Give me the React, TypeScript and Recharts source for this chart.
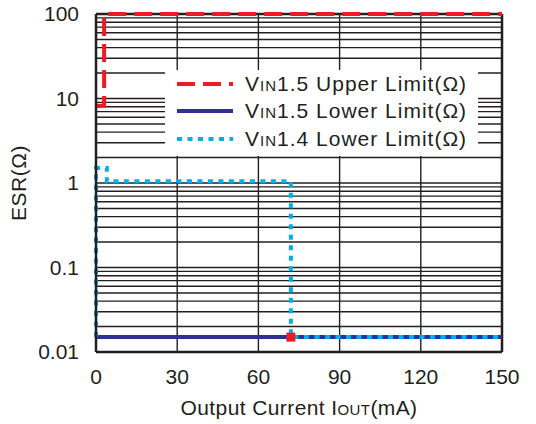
import React from "react";
import {
  LineChart,
  Line,
  XAxis,
  YAxis,
  CartesianGrid,
  Legend,
  Label,
  ReferenceLine,
} from "recharts";

// Output current (mA) vs ESR (Ω), step limits
const upperX = [0, 3, 3, 150];
const upperY = [8.2, 8.2, 100, 100];
const lower15X = [0, 150];
const lower15Y = [0.015, 0.015];
const lower14X = [0, 0, 4, 4, 72, 72, 150];
const lower14Y = [0.015, 1.5, 1.5, 1.05, 1.05, 0.015, 0.015];
const markerX = [72];
const markerY = [0.015];

const xTicks = [0, 30, 60, 90, 120, 150];
const yTicks = [0.01, 0.1, 1, 10, 100];
const yLabels = ["0.01", "0.1", "1", "10", "100"];
const minorSteps = [2, 3, 4, 5, 6, 7, 8, 9];

const yGrid: number[] = [];
yTicks.slice(0, 4).forEach((d) => minorSteps.forEach((k) => yGrid.push(+(k * d).toPrecision(3))));
yGrid.push(0.1, 1, 10);

const toData = (xs: number[], ys: number[]) => xs.map((x, i) => ({ x, y: ys[i] }));
const upperData = toData(upperX, upperY);
const lower15Data = toData(lower15X, lower15Y);
const lower14Data = toData(lower14X, lower14Y);
const markerData = toData(markerX, markerY);

const RED = "#ed1c24";
const BLUE = "#2e3192";
const CYAN = "#00aeef";
const INK = "#231f20";
const FONT = "'Liberation Sans', Arial, sans-serif";
const FS = 21;

const legendItems = [
  { color: RED, dash: "18 8", v: "1.5 Upper Limit(Ω)" },
  { color: BLUE, dash: undefined, v: "1.5 Lower Limit(Ω)" },
  { color: CYAN, dash: "5 5.5", v: "1.4 Lower Limit(Ω)" },
];

const LegendBox = () => (
  <div style={{ background: "#fff", width: 313, height: 86 }}>
    {legendItems.map((it) => (
      <div
        key={it.v}
        style={{
          display: "flex",
          alignItems: "center",
          height: 27.5,
          fontFamily: FONT,
          fontSize: FS,
          color: INK,
        }}
      >
        <svg width={68} height={10} style={{ marginLeft: 12, flex: "none" }}>
          <line x1={0} x2={56} y1={5} y2={5} stroke={it.color} strokeWidth={4} strokeDasharray={it.dash} />
        </svg>
        <span style={{ whiteSpace: "nowrap", letterSpacing: 1 }}>
          V<span style={{ fontSize: 15 }}>IN</span>
          {it.v}
        </span>
      </div>
    ))}
  </div>
);

const XTitle = (props: any) => {
  const { viewBox } = props;
  const cx = viewBox.x + viewBox.width / 2;
  return (
    <text x={cx} y={415} textAnchor="middle" fill={INK} fontSize={FS} fontFamily={FONT} letterSpacing={0.4}>
      Output Current I<tspan fontSize={15}>OUT</tspan>(mA)
    </text>
  );
};

export default function App() {
  return (
    <div style={{ position: "absolute", left: 0, top: 0, background: "#fff" }}>
      <LineChart
        width={536}
        height={424}
        margin={{ top: 14, right: 34, left: 0, bottom: 0 }}
        style={{ fontFamily: FONT }}
      >
        <CartesianGrid stroke={INK} strokeWidth={1.4} horizontal={false} verticalValues={xTicks.slice(1, 5)} />
        {yGrid.map((v) => (
          <ReferenceLine key={v} y={v} stroke={INK} strokeWidth={1.4} />
        ))}
        <ReferenceLine y={100} stroke={INK} strokeWidth={2.5} />
        <ReferenceLine x={150} stroke={INK} strokeWidth={2.5} />
        <XAxis
          dataKey="x"
          type="number"
          domain={[0, 150]}
          ticks={xTicks}
          height={72}
          axisLine={{ stroke: INK, strokeWidth: 2.5 }}
          tickLine={false}
          tickMargin={11}
          tick={{ fill: INK, fontSize: FS }}
          allowDuplicatedCategory={false}
        >
          <Label content={<XTitle />} />
        </XAxis>
        <YAxis
          scale="log"
          domain={[0.01, 100]}
          ticks={yTicks}
          tickFormatter={(v: number) => yLabels[yTicks.indexOf(v)] ?? String(v)}
          width={96}
          axisLine={{ stroke: INK, strokeWidth: 2.5 }}
          tickLine={false}
          tickMargin={11}
          tick={{ fill: INK, fontSize: FS }}
        >
          <Label
            value="ESR(Ω)"
            angle={-90}
            position="insideLeft"
            offset={19}
            style={{ fill: INK, fontSize: FS, textAnchor: "middle", letterSpacing: 0.5 }}
          />
        </YAxis>
        <Legend
          content={<LegendBox />}
          layout="horizontal"
          align="center"
          verticalAlign="middle"
          wrapperStyle={{ left: 165, top: 70, width: 313, height: 86 }}
        />
        <Line
          data={lower15Data}
          dataKey="y"
          stroke={BLUE}
          strokeWidth={4}
          dot={false}
          isAnimationActive={false}
        />
        <Line
          data={lower14Data}
          dataKey="y"
          stroke={CYAN}
          strokeWidth={4}
          strokeDasharray="5 5.5"
          dot={false}
          isAnimationActive={false}
        />
        <Line
          data={upperData}
          dataKey="y"
          stroke={RED}
          strokeWidth={4}
          strokeDasharray="18 8"
          dot={false}
          isAnimationActive={false}
        />
        <Line
          data={markerData}
          dataKey="y"
          stroke="none"
          legendType="none"
          isAnimationActive={false}
          dot={(p: any) => (
            <rect key={`m${p.index}`} x={p.cx - 4.5} y={p.cy - 4.5} width={9} height={9} fill={RED} />
          )}
        />
      </LineChart>
    </div>
  );
}
